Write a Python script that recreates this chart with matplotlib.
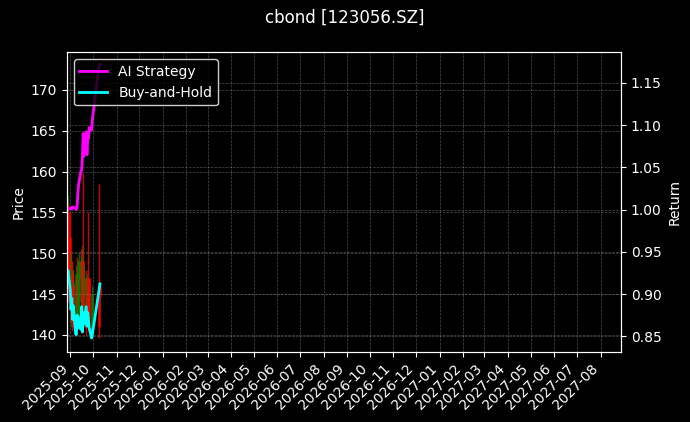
import matplotlib
matplotlib.use('Agg')
import matplotlib.pyplot as plt
import matplotlib.dates as mdates
import numpy as np
import pandas as pd

# trading days shown in the reference
dates = pd.to_datetime([
    '2025-08-28', '2025-08-29',
    '2025-09-01', '2025-09-02', '2025-09-03', '2025-09-04', '2025-09-05',
    '2025-09-08', '2025-09-09', '2025-09-10', '2025-09-11', '2025-09-12',
    '2025-09-15', '2025-09-16', '2025-09-17', '2025-09-18', '2025-09-19',
    '2025-09-22', '2025-09-23', '2025-09-24', '2025-09-25', '2025-09-26',
    '2025-09-29', '2025-09-30',
    '2025-10-09', '2025-10-10',
])

open_ = [148.0, 155.0, 152.0, 143.5, 148.0, 143.0, 146.0, 142.0, 145.0, 147.0,
         142.0, 147.0, 149.0, 146.0, 142.5, 149.0, 145.0, 147.0, 141.5, 145.5,
         146.0, 147.0, 142.0, 140.5, 146.0, 146.0]
high = [160.5, 156.0, 155.0, 150.0, 149.0, 148.0, 147.5, 147.0, 148.5, 149.5,
        149.0, 150.0, 150.5, 148.0, 151.0, 159.8, 148.5, 148.0, 147.5, 146.0,
        155.0, 147.0, 145.0, 146.0, 158.5, 146.5]
low = [147.0, 144.0, 141.5, 141.0, 140.5, 142.0, 141.0, 140.0, 141.0, 141.5,
       141.5, 142.0, 143.0, 141.0, 142.0, 140.3, 141.0, 140.0, 141.0, 140.5,
       140.8, 141.0, 139.8, 140.0, 139.6, 144.5]
close = [157.0, 146.0, 143.0, 148.0, 142.0, 146.5, 142.5, 145.0, 147.5, 143.0,
         147.5, 149.0, 144.0, 142.0, 149.5, 141.0, 147.0, 141.0, 146.0, 142.0,
         141.5, 142.0, 140.5, 145.0, 141.0, 145.0]

ai_strategy = [1.000, 1.001, 1.001, 1.002, 1.001, 1.003, 1.002, 1.002, 1.000, 1.003,
               1.020, 1.030, 1.045, 1.047, 1.062, 1.090, 1.063, 1.092, 1.065, 1.085,
               1.084, 1.097, 1.094, 1.106, 1.170, 1.172]
buy_and_hold = [0.922, 0.928, 0.905, 0.882, 0.895, 0.870, 0.886, 0.853, 0.852, 0.875,
                0.860, 0.872, 0.858, 0.885, 0.855, 0.878, 0.865, 0.885, 0.862, 0.878,
                0.870, 0.860, 0.848, 0.852, 0.905, 0.912]

plt.style.use('dark_background')
fig, ax = plt.subplots(figsize=(6.9, 4.22), dpi=100)
fig.subplots_adjust(left=0.097, right=0.9, bottom=0.167, top=0.876)

# candles
for d, o, h, l, c in zip(dates, open_, high, low, close):
    col = 'green' if c >= o else 'red'
    ax.vlines(d, l, h, color=col, linewidth=1, alpha=0.8)
    ax.vlines(d, min(o, c), max(o, c), color=col, linewidth=2, alpha=0.8)

ax.set_ylabel('Price')
ax.set_ylim(137.96, 174.6)
ax.grid(True, color='gray', linestyle='--', linewidth=0.5, alpha=0.6)

ax2 = ax.twinx()
ax2.plot(dates, ai_strategy, color='magenta', linewidth=2, label='AI Strategy')
ax2.plot(dates, buy_and_hold, color='cyan', linewidth=2, label='Buy-and-Hold')
ax2.set_ylabel('Return')
ax2.set_ylim(0.832, 1.186)
ax2.grid(True, color='gray', linestyle='--', linewidth=0.5, alpha=0.6)

ax.set_xlim(pd.Timestamp('2025-08-27 14:00'), pd.Timestamp('2027-08-28'))
ax.xaxis.set_major_locator(mdates.MonthLocator())
ax.xaxis.set_major_formatter(mdates.DateFormatter('%Y-%m'))
plt.setp(ax.get_xticklabels(), rotation=45, ha='right')

ax2.legend(loc='upper left', facecolor='black', edgecolor='white')
fig.suptitle('cbond [123056.SZ]')

plt.savefig('out.png')
